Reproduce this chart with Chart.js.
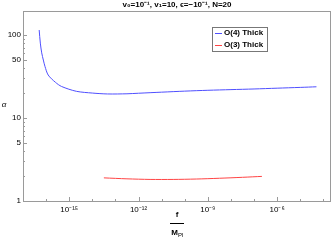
<!DOCTYPE html>
<html>
<head>
<meta charset="utf-8">
<script src="https://cdn.jsdelivr.net/npm/chart.js@4.4.1/dist/chart.umd.min.js"></script>
<style>
  html, body { margin:0; padding:0; background:#fff; }
  #wrap { width:332px; height:240px; }
</style>
</head>
<body>
<div id="wrap"><canvas id="ch" width="332" height="240"></canvas></div>
<script>
// data (x as log10 of f/M_Pl)
const BLUE_XEXP = [-16.30, -16.25, -16.19, -16.12, -16.05, -15.91, -15.60, -15.33, -14.69, -14.0, -13.34, -12.5, -12.0, -11.0, -10.0, -9.0, -8.0, -7.0, -6.0, -5.0, -4.3];
const BLUE_Y    = [115,    80,     61,     50,     42,     33,     27,     24,     21,     20,    19.5,   19.6,  19.9,  20.5,  21.1,  21.6, 22.0, 22.4, 22.9, 23.4, 23.8];
const RED_XEXP  = [-13.5, -12.5, -11.5, -10.5, -9.5, -8.5, -7.5, -6.66];
const RED_Y     = [1.90,  1.85,  1.82,  1.82,  1.84, 1.88, 1.93, 1.98];

const X_TICK_EXP  = [-17, -16, -15, -14, -13, -12, -11, -10, -9, -8, -7, -6, -5, -4];
const X_LABEL_EXP = [-15, -12, -9, -6];
const Y_TICKS     = [1, 2, 3, 4, 5, 6, 7, 8, 9, 10, 20, 30, 40, 50, 60, 70, 80, 90, 100];
const Y_LABELS    = [1, 5, 10, 50, 100];

const SUP = { '-':'⁻', '0':'⁰', '1':'¹', '2':'²', '3':'³', '4':'⁴', '5':'⁵', '6':'⁶', '7':'⁷', '8':'⁸', '9':'⁹' };
const sup = s => String(s).split('').map(c => SUP[c] || c).join('');

const pts = (xs, ys) => xs.map((e, i) => ({ x: Math.pow(10, e), y: ys[i] }));

const FONT = '"Liberation Sans", Arial, sans-serif';
const FRAME = '#9a9a9a';
const INK = '#000';

// frame, inward ticks, title, axis labels, legend
const deco = {
  id: 'deco',
  afterDraw(c) {
    const { ctx, chartArea: a, scales: { x, y } } = c;
    ctx.save();
    ctx.strokeStyle = FRAME; ctx.lineWidth = 1;
    ctx.strokeRect(a.left + 0.5, a.top + 0.5, a.right - a.left - 1, a.bottom - a.top);
    ctx.beginPath();
    X_TICK_EXP.forEach(e => {
      const px = Math.round(x.getPixelForValue(Math.pow(10, e))) + 0.5;
      const len = X_LABEL_EXP.includes(e) ? 4 : 2;
      ctx.moveTo(px, a.bottom); ctx.lineTo(px, a.bottom - len);
    });
    Y_TICKS.forEach(v => {
      const py = Math.round(y.getPixelForValue(v)) + 0.5;
      const len = Y_LABELS.includes(v) ? 4 : 2;
      ctx.moveTo(a.left, py); ctx.lineTo(a.left + len, py);
    });
    ctx.stroke();

    ctx.fillStyle = INK;
    ctx.textAlign = 'center'; ctx.textBaseline = 'middle';
    ctx.font = `bold 8px ${FONT}`;
    ctx.fillText('v₀=10⁻¹, v₁=10, ϵ=−10⁻¹, N=20', (a.left + a.right) / 2, 5);

    // alpha
    ctx.font = `italic 8px ${FONT}`;
    ctx.fillText('α', 4, 105);

    // f / M_Pl
    const cx = (a.left + a.right) / 2;
    ctx.font = `bold 8px ${FONT}`;
    ctx.fillText('f', cx, 215);
    ctx.beginPath(); ctx.strokeStyle = INK;
    ctx.moveTo(cx - 7, 223.5); ctx.lineTo(cx + 7, 223.5); ctx.stroke();
    ctx.textAlign = 'right';
    ctx.fillText('M', cx + 1, 233);
    ctx.font = `6px ${FONT}`; ctx.textAlign = 'left';
    ctx.fillText('Pl', cx + 1, 235);

    // legend
    const lx = 212, ly = 27, lw = 55, lh = 24;
    ctx.fillStyle = '#fff'; ctx.fillRect(lx, ly, lw, lh);
    ctx.strokeStyle = '#777'; ctx.strokeRect(lx + 0.5, ly + 0.5, lw, lh);
    c.data.datasets.forEach((ds, i) => {
      const yy = ly + 6 + i * 12;
      ctx.beginPath(); ctx.strokeStyle = ds.borderColor; ctx.lineWidth = 1;
      ctx.moveTo(lx + 3, yy + 0.5); ctx.lineTo(lx + 10, yy + 0.5); ctx.stroke();
      ctx.fillStyle = INK; ctx.font = `bold 8px ${FONT}`; ctx.textAlign = 'left';
      ctx.fillText(ds.label, lx + 12, yy);
    });
    ctx.restore();
  }
};

new Chart(document.getElementById('ch'), {
  type: 'scatter',
  data: {
    datasets: [
      { label: 'O(4) Thick', data: pts(BLUE_XEXP, BLUE_Y), borderColor: '#4f4fff', borderWidth: 1, showLine: true, pointRadius: 0, tension: 0.3 },
      { label: 'O(3) Thick', data: pts(RED_XEXP, RED_Y), borderColor: '#ff4444', borderWidth: 1, showLine: true, pointRadius: 0, tension: 0.3 },
    ]
  },
  options: {
    responsive: false, animation: false,
    layout: { padding: { top: 11, right: 1, left: 0, bottom: 0 } },
    plugins: { legend: { display: false }, tooltip: { enabled: false } },
    scales: {
      x: {
        type: 'logarithmic', min: 1e-17, max: Math.pow(10, -3.67),
        afterBuildTicks: s => { s.ticks = X_TICK_EXP.map(e => ({ value: Math.pow(10, e) })); },
        afterFit: s => { s.height = 39; },
        grid: { display: false, drawTicks: false },
        border: { display: false },
        ticks: {
          autoSkip: false, maxRotation: 0, padding: 4, color: INK, font: { family: FONT, size: 8 },
          callback: v => { const e = Math.round(Math.log10(v)); return X_LABEL_EXP.includes(e) ? '10' + sup(e) : ''; }
        }
      },
      y: {
        type: 'logarithmic', min: 1, max: 195,
        afterBuildTicks: s => { s.ticks = Y_TICKS.map(v => ({ value: v })); },
        afterFit: s => { s.width = 23; },
        grid: { display: false, drawTicks: false },
        border: { display: false },
        ticks: {
          autoSkip: false, padding: 2, color: INK, font: { family: FONT, size: 8 },
          callback: v => Y_LABELS.includes(v) ? String(v) : ''
        }
      }
    }
  },
  plugins: [deco]
});
</script>
</body>
</html>
